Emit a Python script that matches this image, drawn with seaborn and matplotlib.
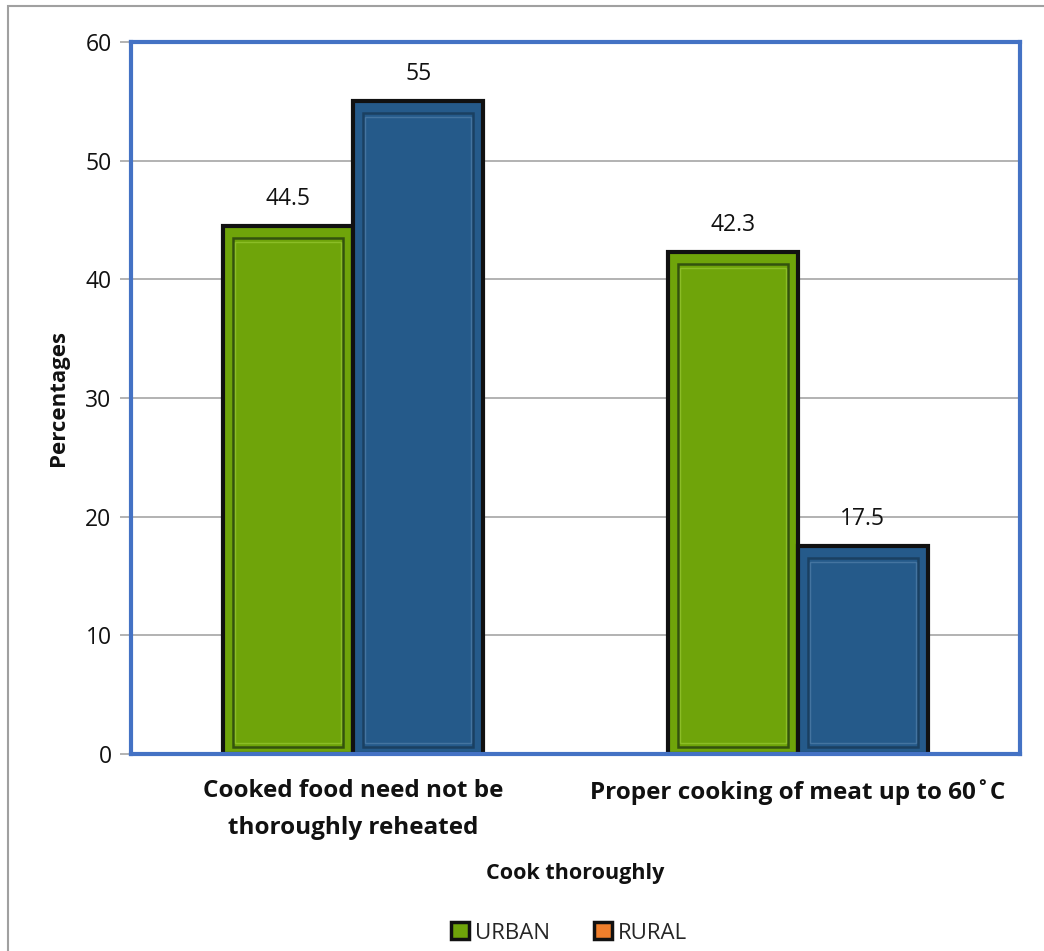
import matplotlib
matplotlib.use("Agg")
import matplotlib.pyplot as plt
from matplotlib.patches import Rectangle, Patch
import seaborn as sns
import pandas as pd

categories = ["Cooked food need not be\nthoroughly reheated",
              "Proper cooking of meat up to 60˚C"]
groups = ["URBAN", "RURAL"]
urban = [44.5, 42.3]
rural = [55, 17.5]
y_ticks = [0, 10, 20, 30, 40, 50, 60]

bar_colors = ["#6fa40a", "#255a8a"]
legend_colors = ["#6fa40a", "#f07f2c"]
frame_blue = "#4472c4"

df = pd.DataFrame({
    "category": categories * 2,
    "group": [groups[0]] * len(categories) + [groups[1]] * len(categories),
    "value": urban + rural,
})

sns.set_theme(style="white")
plt.rcParams["font.family"] = ["Open Sans", "DejaVu Sans"]

fig = plt.figure(figsize=(10.44, 9.51), dpi=100)
ax = fig.add_axes([131 / 1044, 1 - 754 / 951, (1020 - 131) / 1044, (754 - 42) / 951])

sns.barplot(data=df, x="category", y="value", hue="group", order=categories,
            hue_order=groups, palette=bar_colors, width=0.585, gap=0,
            edgecolor="#111111", linewidth=3, saturation=1, ax=ax, legend=False)

ax.set_ylim(0, 60)
ax.set_xlim(-0.5, 1.5)
ax.set_yticks(y_ticks)
ax.yaxis.grid(True, color="#a6a6a6", linewidth=1.2)
ax.set_axisbelow(True)

# inner bevel outline on each bar, plus value labels
for patch, color in zip(ax.patches, [bar_colors[0]] * 2 + [bar_colors[1]] * 2):
    x, w, h = patch.get_x(), patch.get_width(), patch.get_height()
    green = color == bar_colors[0]
    ax.add_patch(Rectangle((x + 0.022, 0.6), w - 0.044, h - 1.6, fill=False,
                           edgecolor="#1a2f10" if green else "#163650",
                           linewidth=1.8, alpha=0.7, zorder=patch.get_zorder() + 0.1))
    ax.add_patch(Rectangle((x + 0.027, 0.95), w - 0.054, h - 2.3, fill=False,
                           edgecolor="#9fcf3a" if green else "#5a86b0",
                           linewidth=1.0, alpha=0.6, zorder=patch.get_zorder() + 0.1))
    label = f"{h:g}"
    ax.annotate(label, (x + w / 2, h), xytext=(0, 11), textcoords="offset points",
                ha="center", va="bottom", fontsize=16.5, color="#111111")

for side in ["left", "right", "top", "bottom"]:
    ax.spines[side].set_visible(True)
    ax.spines[side].set_color(frame_blue)
    ax.spines[side].set_linewidth(3)

ax.tick_params(axis="y", which="major", left=True, length=8, width=1.2, color="#a6a6a6",
               labelsize=16.5, labelcolor="#111111", pad=6)
ax.tick_params(axis="x", bottom=False, labelsize=17.5, labelcolor="#111111", pad=12)
for lbl in ax.get_xticklabels():
    lbl.set_fontweight("bold")
    lbl.set_linespacing(1.75)

ax.set_xlabel("Cook thoroughly", fontsize=15.5, fontweight="bold", color="#111111", labelpad=16)
ax.set_ylabel("Percentages", fontsize=16, fontweight="bold", color="#111111", labelpad=12)

handles = [Patch(facecolor=c, edgecolor="#111111", linewidth=2.5) for c in legend_colors]
fig.legend(handles, groups, loc="center", bbox_to_anchor=(0.545, 1 - 933 / 951), ncol=2,
           frameon=False, fontsize=16, handlelength=0.8, handleheight=0.8,
           handletextpad=0.25, columnspacing=2.0)

# chart-area border
fig.add_artist(Rectangle((8 / 1044, -0.1), 1.2, 1 - 6 / 951 + 0.1, transform=fig.transFigure,
                         fill=False, edgecolor="#a0a0a0", linewidth=1.5))

fig.savefig("out.png", dpi=100)
